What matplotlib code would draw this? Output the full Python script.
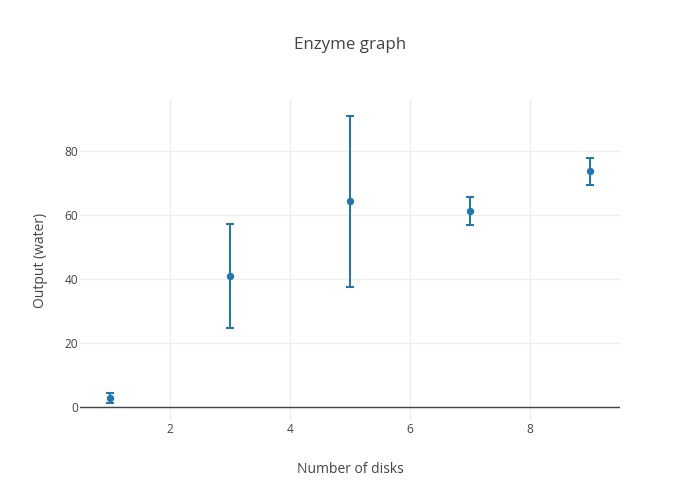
import matplotlib.pyplot as plt

# data
disks = [1, 3, 5, 7, 9]
output = [2.7, 41.0, 64.2, 61.2, 73.7]
err = [1.6, 16.3, 26.8, 4.3, 4.2]

x_ticks = [2, 4, 6, 8]
y_ticks = [0, 20, 40, 60, 80]

plt.rcParams['font.family'] = ['Open Sans', 'DejaVu Sans']
text_col = '#444444'

fig = plt.figure(figsize=(7, 5), dpi=100)
ax = fig.add_axes([80 / 700, 80 / 500, 540 / 700, 320 / 500])

ax.errorbar(disks, output, yerr=err, fmt='o', color='#1f77b4',
            markersize=4.3, elinewidth=1.45, capsize=3, capthick=1.45, zorder=3)

ax.set_xlim(0.5, 9.5)
ax.set_ylim(-4.06, 95.9)
ax.set_xticks(x_ticks)
ax.set_yticks(y_ticks)

# plotly-ish look
ax.grid(True, color='#eeeeee', linewidth=1)
ax.set_axisbelow(True)
ax.axhline(0, color=text_col, linewidth=1, zorder=2)
for s in ax.spines.values():
    s.set_visible(False)
ax.tick_params(length=0, labelsize=8.6, colors=text_col)
ax.tick_params(axis='y', pad=1.5)
ax.tick_params(axis='x', pad=2)

ax.set_xlabel('Number of disks', fontsize=10, color=text_col, labelpad=19)
ax.set_ylabel('Output (water)', fontsize=10, color=text_col, labelpad=12)
fig.text(0.5, 1 - 45 / 500, 'Enzyme graph', ha='center', va='center',
         fontsize=12.2, color=text_col)

fig.savefig('out.png', dpi=100)
